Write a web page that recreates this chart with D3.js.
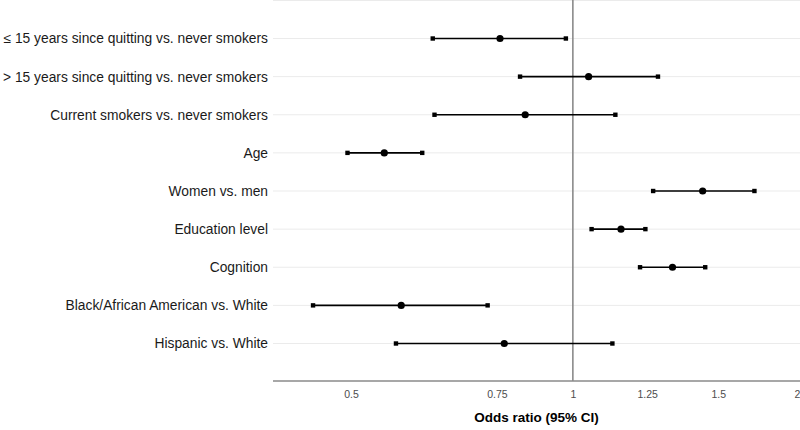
<!DOCTYPE html>
<html>
<head>
<meta charset="utf-8">
<script src="https://cdn.jsdelivr.net/npm/d3@7"></script>
<style>
  html, body { margin: 0; padding: 0; background: #fff; }
  svg { display: block; font-family: "Liberation Sans", Arial, Helvetica, sans-serif; }
</style>
</head>
<body>
<svg id="chart" width="800" height="430"></svg>
<script>
// ---- data ----
const categories = [
  "≤ 15 years since quitting vs. never smokers",
  "> 15 years since quitting vs. never smokers",
  "Current smokers vs. never smokers",
  "Age",
  "Women vs. men",
  "Education level",
  "Cognition",
  "Black/African American vs. White",
  "Hispanic vs. White"
];
const oddsRatio = [0.760, 1.053, 0.843, 0.557, 1.445, 1.162, 1.339, 0.586, 0.774];
const ciLower   = [0.640, 0.826, 0.643, 0.494, 1.271, 1.063, 1.226, 0.435, 0.577];
const ciUpper   = [0.977, 1.288, 1.143, 0.622, 1.730, 1.244, 1.454, 0.734, 1.133];
const tickValues = [0.5, 0.75, 1, 1.25, 1.5, 2];
const tickLabels = ["0.5", "0.75", "1", "1.25", "1.5", "2"];
const refValue = 1;
const xTitle = "Odds ratio (95% CI)";

// ---- layout ----
const W = 800, H = 430;
const panel = { left: 273, right: 800, top: 0, bottom: 381 };
// relative placement of the axis breaks across the panel width (as drawn in the original)
const tickFrac = [0.148, 0.425, 0.569, 0.710, 0.845, 0.994];

const svg = d3.select("#chart");
const pw = panel.right - panel.left;

const x = d3.scaleLinear()
  .domain(tickValues)
  .range(tickFrac.map(f => panel.left + f * pw));

const y = d3.scalePoint()
  .domain(categories)
  .range([38.5, 343.5]);

const step = y.step();

// gridlines
const gridG = svg.append("g");
const gridYs = [y(categories[0]) - step].concat(categories.map(c => y(c)));
gridG.selectAll("line").data(gridYs).join("line")
  .attr("x1", panel.left).attr("x2", panel.right)
  .attr("y1", d => Math.max(0.5, d)).attr("y2", d => Math.max(0.5, d))
  .attr("stroke", "#ebebeb").attr("stroke-width", 1);

// reference line at OR = 1
svg.append("line")
  .attr("x1", x(refValue)).attr("x2", x(refValue))
  .attr("y1", panel.top).attr("y2", panel.bottom)
  .attr("stroke", "#8a8a8a").attr("stroke-width", 1.6);

// x axis line
svg.append("line")
  .attr("x1", panel.left).attr("x2", panel.right)
  .attr("y1", panel.bottom).attr("y2", panel.bottom)
  .attr("stroke", "#8a8a8a").attr("stroke-width", 1.6);

// x axis (labels only)
const xAxis = d3.axisBottom(x)
  .tickValues(tickValues)
  .tickFormat((d, i) => tickLabels[i])
  .tickSize(0)
  .tickPadding(10);
const xg = svg.append("g")
  .attr("transform", `translate(0,${panel.bottom})`)
  .call(xAxis);
xg.select(".domain").remove();
xg.selectAll("text")
  .attr("font-family", "\"Liberation Sans\", Arial, sans-serif")
  .attr("font-size", 10.5).attr("fill", "#4d4d4d");

// y axis labels
const yAxis = d3.axisLeft(y).tickSize(0).tickPadding(5);
const yg = svg.append("g")
  .attr("transform", `translate(${panel.left},0)`)
  .call(yAxis);
yg.select(".domain").remove();
yg.selectAll("text")
  .attr("font-family", "\"Liberation Sans\", Arial, sans-serif")
  .attr("font-size", 13.8).attr("fill", "#1a1a1a");

// axis title
svg.append("text")
  .attr("x", (panel.left + panel.right) / 2)
  .attr("y", 422)
  .attr("text-anchor", "middle")
  .attr("font-size", 13.5).attr("font-weight", "bold").attr("fill", "#000")
  .text(xTitle);

// data rows
const rows = categories.map((c, i) => ({ c, or: oddsRatio[i], lo: ciLower[i], hi: ciUpper[i] }));
const g = svg.append("g");
g.selectAll("line.ci").data(rows).join("line").attr("class", "ci")
  .attr("x1", d => x(d.lo)).attr("x2", d => x(d.hi))
  .attr("y1", d => y(d.c)).attr("y2", d => y(d.c))
  .attr("stroke", "#000").attr("stroke-width", 1.7);

const capSize = 4.4;
g.selectAll("rect.lo").data(rows).join("rect").attr("class", "lo")
  .attr("x", d => x(d.lo) - capSize / 2).attr("y", d => y(d.c) - capSize / 2)
  .attr("width", capSize).attr("height", capSize).attr("fill", "#000");
g.selectAll("rect.hi").data(rows).join("rect").attr("class", "hi")
  .attr("x", d => x(d.hi) - capSize / 2).attr("y", d => y(d.c) - capSize / 2)
  .attr("width", capSize).attr("height", capSize).attr("fill", "#000");

g.selectAll("circle").data(rows).join("circle")
  .attr("cx", d => x(d.or)).attr("cy", d => y(d.c))
  .attr("r", 3.6).attr("fill", "#000");
</script>
</body>
</html>
